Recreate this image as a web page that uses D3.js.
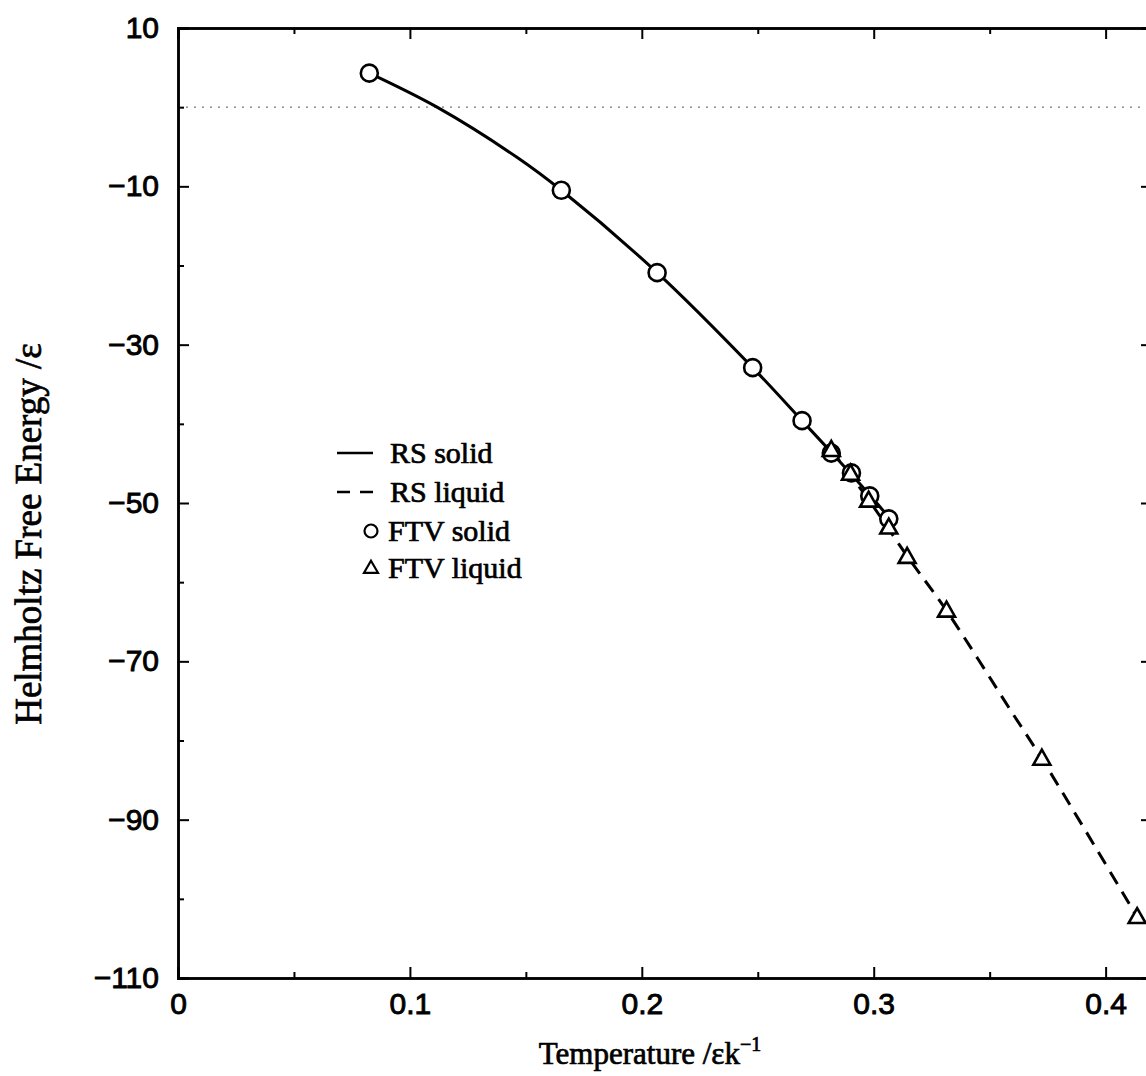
<!DOCTYPE html>
<html>
<head>
<meta charset="utf-8">
<script src="https://cdn.jsdelivr.net/npm/d3@7"></script>
<style>
  body { margin: 0; background: #fff; }
  .tickLab { font-family: "Liberation Sans", Arial, sans-serif; font-size: 30px; fill: #000; stroke: #000; stroke-width: 0.9px; }
  .serif { font-family: "Liberation Serif", "Times New Roman", serif; fill: #000; stroke: #000; stroke-width: 0.7px; }
</style>
</head>
<body>
<div id="graph"></div>
<script>
// FTV solid points (temperature, free energy)
var ftvSolidT = [0.0825, 0.1653, 0.2066, 0.2478, 0.2691, 0.2817, 0.2904, 0.2983, 0.3065];
var ftvSolidF = [4.3, -10.5, -20.9, -32.9, -39.6, -43.7, -46.2, -49.1, -52.0];

// FTV liquid points
var ftvLiquidT = [0.2817, 0.2900, 0.2978, 0.3065, 0.3144, 0.3314, 0.3725, 0.4136];
var ftvLiquidF = [-43.3, -46.3, -49.7, -53.1, -56.8, -63.6, -82.3, -102.3];

// RS curves
var rsSolidT = [0.0825, 0.1117, 0.146, 0.1653, 0.2066, 0.2478, 0.2691, 0.2817, 0.2983, 0.3065];
var rsSolidF = [4.3, 0.0, -6.3, -10.5, -20.9, -32.9, -39.6, -43.6, -49.0, -51.8];
var rsLiquidT = [0.2817, 0.2978, 0.3144, 0.3314, 0.3595, 0.3725, 0.4136];
var rsLiquidF = [-43.3, -49.6, -56.7, -63.6, -76.4, -82.3, -102.3];

var xMajor = [0, 0.1, 0.2, 0.3, 0.4];
var xMinor = [0.05, 0.15, 0.25, 0.35];
var yMajor = [10, -10, -30, -50, -70, -90, -110];
var yMinor = [0, -20, -40, -60, -80, -100];

var legendLabels = ["RS solid", "RS liquid", "FTV solid", "FTV liquid"];

var frameWidth = 1146,
  frameHeight = 1076;
var plotLeft = 178, plotRight = 1152, plotTop = 28, plotBottom = 978;

var svg = d3
  .select("#graph")
  .append("svg")
  .attr("width", frameWidth)
  .attr("height", frameHeight)
  .style("display", "block");

svg.append("rect").attr("width", frameWidth).attr("height", frameHeight).attr("fill", "#fff");

var xScale = d3.scaleLinear().domain([0, 0.42]).range([plotLeft, plotRight]);
var yScale = d3.scaleLinear().domain([-110, 10]).range([plotBottom, plotTop]);

// zero reference line (dotted)
svg
  .append("line")
  .attr("x1", xScale(0))
  .attr("x2", xScale(0.42))
  .attr("y1", yScale(0))
  .attr("y2", yScale(0))
  .attr("stroke", "#777")
  .attr("stroke-width", 1.3)
  .attr("stroke-dasharray", "2,6");

// frame with inward ticks on all sides
function styleAxis(g) {
  g.select(".domain").attr("stroke", "#000").attr("stroke-width", 2.5);
  g.selectAll(".tick line").attr("stroke", "#000").attr("stroke-width", 2);
  g.selectAll(".tick text").attr("class", "tickLab").attr("font-family", null).attr("font-size", null);
}

svg.append("g")
  .attr("transform", `translate(0,${plotBottom})`)
  .call(d3.axisBottom(xScale).tickValues(xMajor).tickSize(-11).tickPadding(15).tickFormat(function (d) { return d === 0 ? "0" : d3.format(".1f")(d); }))
  .call(styleAxis);
svg.append("g")
  .attr("transform", `translate(0,${plotBottom})`)
  .call(d3.axisBottom(xScale).tickValues(xMinor).tickSize(-6).tickFormat(""))
  .call(styleAxis);
svg.append("g")
  .attr("transform", `translate(0,${plotTop})`)
  .call(d3.axisTop(xScale).tickValues(xMajor).tickSize(-11).tickFormat(""))
  .call(styleAxis);
svg.append("g")
  .attr("transform", `translate(0,${plotTop})`)
  .call(d3.axisTop(xScale).tickValues(xMinor).tickSize(-6).tickFormat(""))
  .call(styleAxis);

svg.append("g")
  .attr("transform", `translate(${plotLeft},0)`)
  .call(d3.axisLeft(yScale).tickValues(yMajor).tickSize(-11).tickPadding(19).tickFormat(d3.format("d")))
  .call(styleAxis);
svg.append("g")
  .attr("transform", `translate(${plotLeft},0)`)
  .call(d3.axisLeft(yScale).tickValues(yMinor).tickSize(-6).tickFormat(""))
  .call(styleAxis);
svg.append("g")
  .attr("transform", `translate(${plotRight},0)`)
  .call(d3.axisRight(yScale).tickValues(yMajor).tickSize(-11).tickFormat(""))
  .call(styleAxis);
svg.append("g")
  .attr("transform", `translate(${plotRight},0)`)
  .call(d3.axisRight(yScale).tickValues(yMinor).tickSize(-6).tickFormat(""))
  .call(styleAxis);

// RS curves
var line = d3
  .line()
  .x(function (d) { return xScale(d[0]); })
  .y(function (d) { return yScale(d[1]); })
  .curve(d3.curveCatmullRom.alpha(0.5));

svg.append("path")
  .datum(d3.zip(rsSolidT, rsSolidF))
  .attr("d", line)
  .attr("fill", "none")
  .attr("stroke", "#000")
  .attr("stroke-width", 3);

svg.append("path")
  .datum(d3.zip(rsLiquidT, rsLiquidF))
  .attr("d", line)
  .attr("fill", "none")
  .attr("stroke", "#000")
  .attr("stroke-width", 3)
  .attr("stroke-dasharray", "14,9");

// markers
function triPath(w, h) {
  return `M0,${-h * 0.6}L${w / 2},${h * 0.4}L${-w / 2},${h * 0.4}Z`;
}

svg.append("g")
  .selectAll("circle")
  .data(d3.zip(ftvSolidT, ftvSolidF))
  .enter()
  .append("circle")
  .attr("cx", function (d) { return xScale(d[0]); })
  .attr("cy", function (d) { return yScale(d[1]); })
  .attr("r", 8.5)
  .attr("fill", "#fff")
  .attr("stroke", "#000")
  .attr("stroke-width", 2.6);

svg.append("g")
  .selectAll("path")
  .data(d3.zip(ftvLiquidT, ftvLiquidF))
  .enter()
  .append("path")
  .attr("d", triPath(17, 15))
  .attr("transform", function (d) { return `translate(${xScale(d[0])},${yScale(d[1])})`; })
  .attr("fill", "#fff")
  .attr("stroke", "#000")
  .attr("stroke-width", 2.6)
  .attr("stroke-linejoin", "miter");

// legend
var legend = svg.append("g").attr("class", "colorLegend");
var rowY = [453, 492, 531, 568];
legend.selectAll("text")
  .data(legendLabels)
  .enter()
  .append("text")
  .attr("class", "serif")
  .attr("x", function (d, i) { return i < 2 ? 390 : 388; })
  .attr("y", function (d, i) { return rowY[i] + 10; })
  .attr("font-size", 30)
  .text(function (d) { return d; });

legend.append("line")
  .attr("x1", 337).attr("x2", 373).attr("y1", rowY[0]).attr("y2", rowY[0])
  .attr("stroke", "#000").attr("stroke-width", 2.6);
legend.append("line")
  .attr("x1", 337).attr("x2", 373).attr("y1", rowY[1]).attr("y2", rowY[1])
  .attr("stroke", "#000").attr("stroke-width", 2.6).attr("stroke-dasharray", "13,10");
legend.append("circle")
  .attr("cx", 371).attr("cy", rowY[2])
  .attr("r", 6.5)
  .attr("fill", "#fff").attr("stroke", "#000").attr("stroke-width", 2.2);
legend.append("path")
  .attr("d", triPath(14, 12))
  .attr("transform", `translate(371,${rowY[3]})`)
  .attr("fill", "#fff").attr("stroke", "#000").attr("stroke-width", 2.2);

// axis titles
var xTitle = svg.append("text")
  .attr("class", "serif")
  .attr("x", 650)
  .attr("y", 1064)
  .attr("text-anchor", "middle")
  .attr("font-size", 31);
xTitle.append("tspan").text("Temperature /εk");
xTitle.append("tspan").attr("dy", -13).attr("font-size", 20).text("−1");

svg.append("text")
  .attr("class", "serif")
  .attr("transform", "translate(41,534) rotate(-90)")
  .attr("text-anchor", "middle")
  .attr("font-size", 37)
  .text("Helmholtz Free Energy /ε");
</script>
</body>
</html>
